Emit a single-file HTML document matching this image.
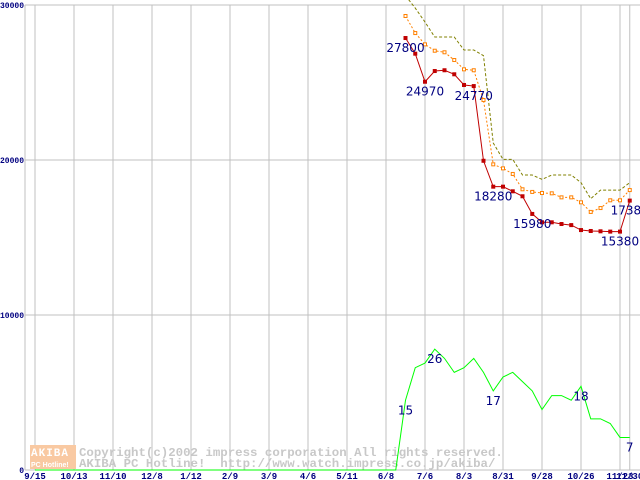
<!DOCTYPE html>
<html><head><meta charset="utf-8">
<style>
html,body{margin:0;padding:0;background:#fff;width:640px;height:480px;overflow:hidden}
svg{display:block}
.tk{font-family:"Liberation Mono",monospace;font-weight:bold;font-size:9px;fill:#000080}
.yk{font-family:"Liberation Mono",monospace;font-weight:bold;font-size:8px;fill:#000080}
.lb{font-family:"DejaVu Sans","Liberation Sans",sans-serif;font-size:12px;fill:#000080}
.wm{font-family:"Liberation Mono",monospace;font-weight:bold;font-size:12.4px;fill:#c8c8c8;white-space:pre}
</style></head>
<body>
<svg id="chart" width="640" height="480"></svg>
<script>
const xLabels = ["9/15","10/13","11/10","12/8","1/12","2/9","3/9","4/6","5/11","6/8","7/6","8/3","8/31","9/28","10/26","11/23","11/30"];
const yTicks = [0,10000,20000,30000];
const seriesStart = 38;
const minPrice = [27870,26860,25050,25740,25790,25530,24840,24770,19950,18280,18280,17980,17660,16520,15980,15980,15870,15800,15480,15420,15400,15380,15380,17380];
const avgPrice = [29290,28190,27460,27050,26950,26450,25850,25790,23870,19720,19460,19100,18110,17940,17870,17850,17590,17590,17270,16650,16900,17400,17400,18060];
const maxPrice = [30600,29800,28900,27935,27935,27935,27100,27100,26730,21100,20040,20040,19030,19030,18750,19030,19030,19030,18540,17500,18060,18060,18060,18540];
const shopCount = [0,0,0,0,0,0,0,0,0,0,0,0,0,0,0,0,0,0,0,0,0,0,0,0,0,0,0,0,0,0,0,0,0,0,0,0,0,0,15,22,23,26,24,21,22,24,21,17,20,21,19,17,13,16,16,15,18,11,11,10,7,7];
const minLabels = {0:"27800",2:"24970",7:"24770",9:"18280",13:"15980",22:"15380",23:"17380"};
const countLabels = [38,41,47,56,61];

const NS="http://www.w3.org/2000/svg";
const svg=document.getElementById('chart');
function X(i){return 35+i*9.75;}
function Y(v){return 470-v*155/10000;}
function mk(tag,attrs,parent){const e=document.createElementNS(NS,tag);for(const k in attrs)e.setAttribute(k,attrs[k]);(parent||svg).appendChild(e);return e;}

const grid=mk('g',{});


mk('line',{x1:25,y1:5,x2:25,y2:470,stroke:'#c0c0c0'},grid);
xLabels.forEach((l,j)=>{
  const i = j<16 ? j*4 : 61;
  mk('line',{x1:X(i),y1:5,x2:X(i),y2:470,stroke:'#c0c0c0'},grid);
  const t=mk('text',{x:X(i),y:479,'text-anchor':'middle',class:'tk'});
  t.textContent=l;
  
  
});
yTicks.forEach(v=>{
  mk('line',{x1:25,y1:Y(v),x2:640,y2:Y(v),stroke:'#c0c0c0'},grid);
  const t=mk('text',{x:24,y:Y(v)+(v===30000?3:3),'text-anchor':'end',class:'yk'});
  t.textContent=String(v);
  
  
});

const wm=mk('g',{});


mk('rect',{x:30,y:445,width:46,height:24,fill:'#f9c9a2'},wm);
let a=mk('text',{x:31,y:456,style:'fill:#fff;font-family:Liberation Mono,monospace;font-weight:bold;font-size:11px;letter-spacing:1px'},wm);a.textContent='AKIBA';
let b=mk('text',{x:31,y:467,style:'fill:#fff;font-family:Liberation Sans,sans-serif;font-weight:bold;font-size:7px'},wm);b.textContent='PC Hotline!';
let c1=mk('text',{x:79,y:456,class:'wm'},wm);c1.textContent='Copyright(c)2002 impress corporation All rights reserved.';
let c2=mk('text',{x:79,y:467,class:'wm','xml:space':'preserve'},wm);c2.textContent='AKIBA PC Hotline!  http://www.watch.impress.co.jp/akiba/';

function line(arr,start,color,dash,name,scale){
  const pts=arr.map((v,i)=>X(start+i).toFixed(2)+','+Y(v*scale).toFixed(2)).join(' ');
  const p=mk('polyline',{points:pts,fill:'none',stroke:color,'stroke-width':1});
  if(dash)p.setAttribute('stroke-dasharray',dash);
  
  
  return p;
}
line(shopCount,0,'#00ff00',null,'shop-count-line',300);
line(maxPrice,seriesStart,'#808000','3,2','max-price-line',1);
line(avgPrice,seriesStart,'#ff8000','2,2','avg-price-line',1);
avgPrice.forEach((v,i)=>{
  const r=mk('rect',{x:X(seriesStart+i)-1.5,y:Y(v)-1.5,width:3,height:3,fill:'#fff',stroke:'#ff8000','stroke-width':1});
  
  
});
line(minPrice,seriesStart,'#c00000',null,'min-price-line',1);
minPrice.forEach((v,i)=>{
  const r=mk('rect',{x:X(seriesStart+i)-2,y:Y(v)-2,width:4,height:4,fill:'#c00000'});
  
  
});
Object.keys(minLabels).forEach(k=>{
  const i=+k;
  const t=mk('text',{x:X(seriesStart+i),y:Y(minPrice[i])+14,'text-anchor':'middle',class:'lb'});
  t.textContent=minLabels[k];
  
  
});
countLabels.forEach(i=>{
  const t=mk('text',{x:X(i),y:Y(shopCount[i]*300)+14,'text-anchor':'middle',class:'lb'});
  t.textContent=String(shopCount[i]);
  
  
});
</script>
</body></html>
